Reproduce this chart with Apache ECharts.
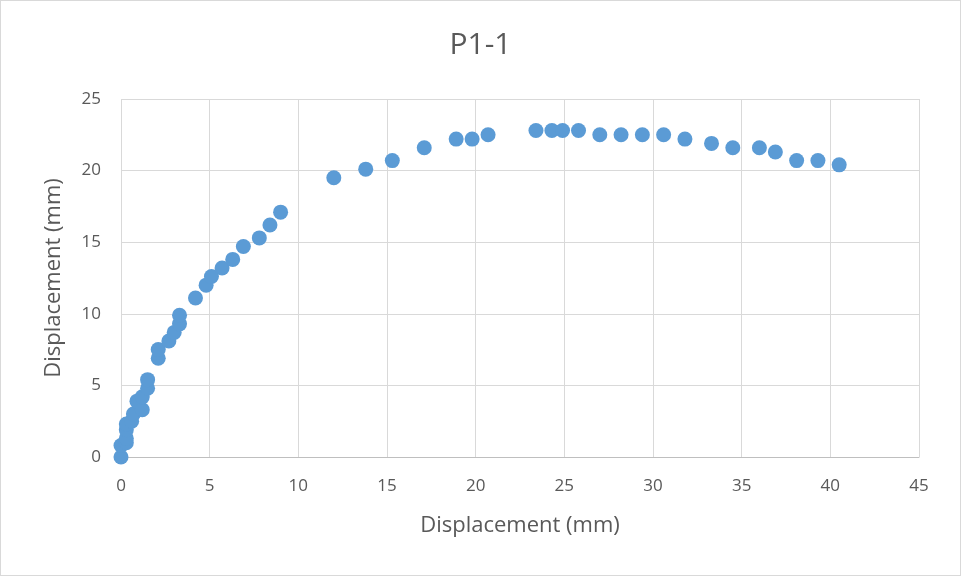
<!DOCTYPE html>
<html>
<head>
<meta charset="utf-8">
<script src="https://cdn.jsdelivr.net/npm/echarts@6/dist/echarts.min.js"></script>
<style>
  html, body { margin: 0; padding: 0; background: #fff; }
  #chart { width: 959px; height: 574px; border: 1px solid #d9d9d9; }
</style>
</head>
<body>
<div id="chart"></div>
<script>
// Horizontal displacement readings (mm)
const xDisp = [
  0, 0, 0.3, 0.3, 0.3, 0.3, 0.6, 0.7, 0.9, 1.2, 1.2, 1.5, 1.5, 2.1, 2.1, 2.7, 3.0, 3.3, 3.3,
  4.2, 4.8, 5.1, 5.7, 6.3, 6.9, 7.8, 8.4, 9.0,
  12.0, 13.8, 15.3, 17.1, 18.9, 19.8, 20.7,
  23.4, 24.3, 24.9, 25.8, 27.0, 28.2, 29.4, 30.6, 31.8, 33.3, 34.5, 36.0, 36.9, 38.1, 39.3, 40.5
];
// Vertical displacement readings (mm)
const yDisp = [
  0, 0.8, 1.0, 1.3, 1.9, 2.3, 2.5, 3.0, 3.9, 3.3, 4.2, 4.8, 5.4, 6.9, 7.5, 8.1, 8.7, 9.3, 9.9,
  11.1, 12.0, 12.6, 13.2, 13.8, 14.7, 15.3, 16.2, 17.1,
  19.5, 20.1, 20.7, 21.6, 22.2, 22.2, 22.5,
  22.8, 22.8, 22.8, 22.8, 22.5, 22.5, 22.5, 22.5, 22.2, 21.9, 21.6, 21.6, 21.3, 20.7, 20.7, 20.4
];
const chartTitle = 'P1-1';
const xName = 'Displacement (mm)';
const yName = 'Displacement (mm)';

const points = xDisp.map((x, i) => [x, yDisp[i]]);
const font = '"Open Sans", "Liberation Sans", sans-serif';

const chart = echarts.init(document.getElementById('chart'), null, { renderer: 'canvas' });
chart.setOption({
  animation: false,
  backgroundColor: '#ffffff',
  title: {
    text: chartTitle,
    left: 'center',
    top: 24,
    textStyle: { fontFamily: font, fontSize: 30, fontWeight: 'normal', color: '#595959' }
  },
  grid: { left: 120, right: 41, top: 98, bottom: 118 },
  xAxis: {
    type: 'value',
    min: 0, max: 45, interval: 5,
    name: xName,
    nameLocation: 'middle',
    nameGap: 58,
    nameTextStyle: { fontFamily: font, fontSize: 22, color: '#595959' },
    axisLine: { show: true, lineStyle: { color: '#bfbfbf' } },
    axisTick: { show: false },
    axisLabel: { fontFamily: font, fontSize: 17, color: '#595959', margin: 21 },
    splitLine: { show: true, lineStyle: { color: '#d9d9d9' } }
  },
  yAxis: {
    type: 'value',
    min: 0, max: 25, interval: 5,
    name: yName,
    nameLocation: 'middle',
    nameGap: 56,
    nameTextStyle: { fontFamily: font, fontSize: 22, color: '#595959' },
    axisLine: { show: false },
    axisTick: { show: false },
    axisLabel: { fontFamily: font, fontSize: 17, color: '#595959', margin: 20 },
    splitLine: { show: true, lineStyle: { color: '#d9d9d9' } }
  },
  series: [{
    type: 'scatter',
    data: points,
    symbol: 'circle',
    symbolSize: 15,
    itemStyle: { color: '#5b9bd5', opacity: 1 }
  }]
});
</script>
</body>
</html>
